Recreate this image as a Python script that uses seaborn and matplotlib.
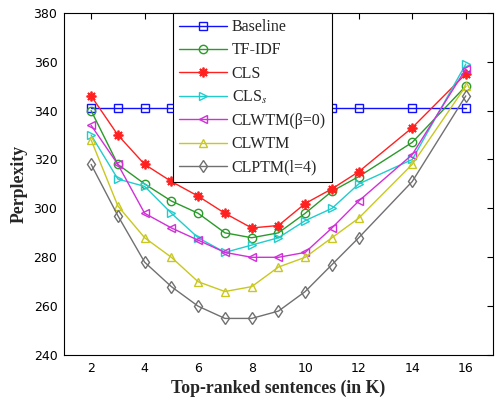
import numpy as np
import pandas as pd
import matplotlib
matplotlib.use("Agg")
import matplotlib.pyplot as plt
import seaborn as sns

# data
k_values = [2, 3, 4, 5, 6, 7, 8, 9, 10, 11, 12, 14, 16]
baseline = [341] * 13
tfidf = [340, 318, 310, 303, 298, 290, 288, 290, 298, 307, 313, 327, 350]
cls = [346, 330, 318, 311, 305, 298, 292, 293, 302, 308, 315, 333, 355]
cls_s = [330, 312, 309, 298, 288, 282, 285, 288, 295, 300, 310, 320, 359]
clwtm_b0 = [334, 318, 298, 292, 287, 282, 280, 280, 282, 292, 303, 322, 357]
clwtm = [328, 301, 288, 280, 270, 266, 268, 276, 280, 288, 296, 318, 350]
clptm = [318, 297, 278, 268, 260, 255, 255, 258, 266, 277, 288, 311, 346]

names = ["Baseline", "TF-IDF", "CLS", "CLS$_s$", "CLWTM(β=0)", "CLWTM", "CLPTM(l=4)"]
series = [baseline, tfidf, cls, cls_s, clwtm_b0, clwtm, clptm]
colors = ["#1010ff", "#2a9a2a", "#ff2020", "#20cccc", "#d030d8", "#c8c820", "#707070"]
markers = ["s", "o", (8, 2, 0), ">", "<", "^", "d"]

df = pd.DataFrame({
    "k": k_values * len(names),
    "ppl": sum(series, []),
    "method": np.repeat(names, len(k_values)),
})

sns.set_style("white")
plt.rcParams["font.family"] = ["Liberation Serif", "DejaVu Serif"]
plt.rcParams["mathtext.fontset"] = "stix"

fig, ax = plt.subplots(figsize=(4.95, 3.99), dpi=100)
fig.subplots_adjust(left=0.13, right=0.995, top=0.968, bottom=0.11)

for name, col, mk in zip(names, colors, markers):
    sub = df[df["method"] == name]
    star = isinstance(mk, tuple)
    sns.lineplot(data=sub, x="k", y="ppl", ax=ax, color=col, marker=mk,
                 markersize=7 if star else 6, linewidth=1,
                 markerfacecolor="none" if not star else col,
                 markeredgecolor=col, markeredgewidth=1.3 if star else 1,
                 label=name)

ax.set_xlim(1, 17)
ax.set_ylim(240, 380)
ax.set_xticks(range(2, 17, 2))
ax.set_yticks(range(240, 381, 20))
ax.tick_params(direction="in", length=4, width=0.8, top=True, right=True,
               labelsize=9, colors="black", pad=5)
for lab in ax.get_xticklabels() + ax.get_yticklabels():
    lab.set_family("DejaVu Sans")
for sp in ax.spines.values():
    sp.set_color("black")
    sp.set_linewidth(0.8)

ax.set_xlabel("Top-ranked sentences (in K)", fontsize=12.8, fontweight="bold", labelpad=3)
ax.set_ylabel("Perplexity", fontsize=12.8, fontweight="bold", labelpad=4)

leg = ax.legend(loc="upper left", bbox_to_anchor=(0.253, 1.0), borderaxespad=0,
                fontsize=11.5, handlelength=3.0, labelspacing=0.45,
                fancybox=False, framealpha=1, edgecolor="black",
                borderpad=0.4, handletextpad=0.3)
leg.get_frame().set_linewidth(0.8)

plt.savefig("out.png", dpi=100)
